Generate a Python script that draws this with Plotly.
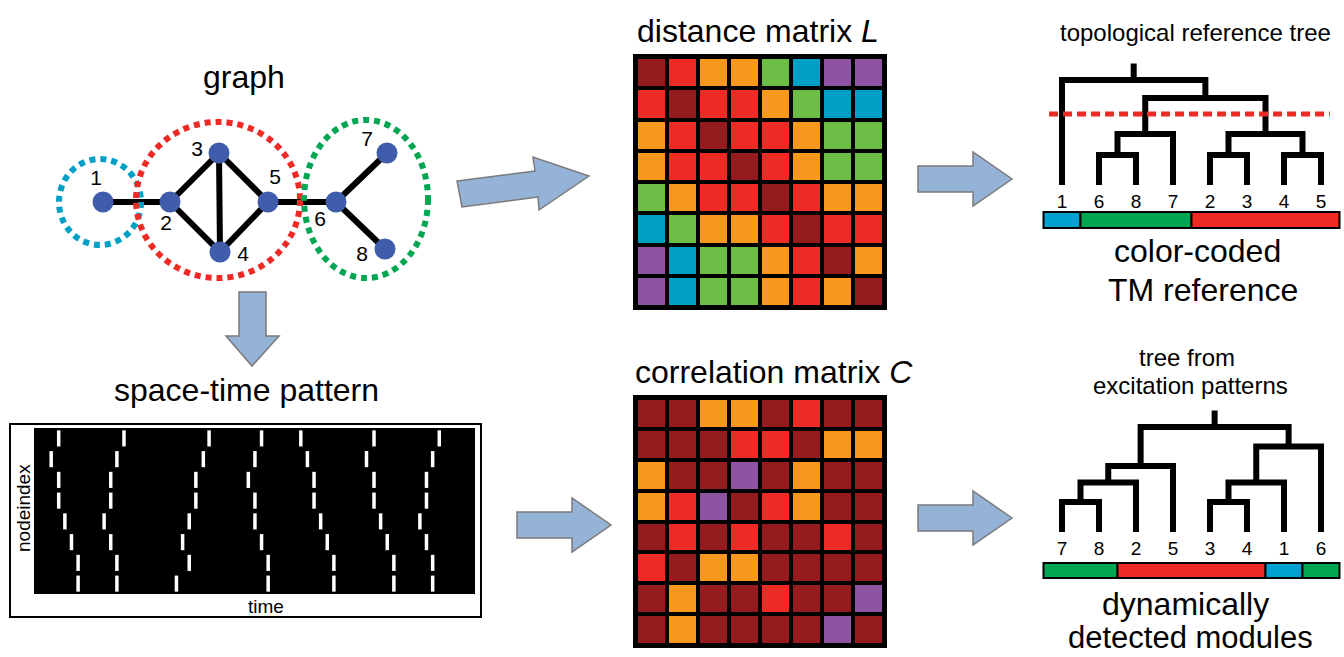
import plotly.graph_objects as go

W, H = 1344, 657
FONT = "Liberation Sans, Arial, sans-serif"

# ---------------- data ----------------
nodes = [1, 2, 3, 4, 5, 6, 7, 8]
edges = [(1, 2), (2, 3), (2, 4), (3, 4), (3, 5), (4, 5), (5, 6), (6, 7), (6, 8)]

# module of every node (TM reference)
node_module = {1: "blue", 2: "red", 3: "red", 4: "red", 5: "red",
               6: "green", 7: "green", 8: "green"}

# graph distance matrix L (hops between nodes)
dist_L = [
    [0, 1, 2, 2, 3, 4, 5, 5],
    [1, 0, 1, 1, 2, 3, 4, 4],
    [2, 1, 0, 1, 1, 2, 3, 3],
    [2, 1, 1, 0, 1, 2, 3, 3],
    [3, 2, 1, 1, 0, 1, 2, 2],
    [4, 3, 2, 2, 1, 0, 1, 1],
    [5, 4, 3, 3, 2, 1, 0, 2],
    [5, 4, 3, 3, 2, 1, 2, 0],
]

# correlation matrix C, binned to the same colour levels
corr_C = [
    [0, 0, 2, 2, 0, 1, 0, 0],
    [0, 0, 0, 1, 1, 0, 2, 2],
    [2, 0, 0, 5, 0, 2, 0, 0],
    [2, 1, 5, 0, 1, 2, 0, 0],
    [0, 1, 0, 1, 0, 0, 1, 0],
    [1, 0, 2, 2, 0, 0, 0, 0],
    [0, 2, 0, 0, 1, 0, 0, 5],
    [0, 2, 0, 0, 0, 0, 5, 0],
]

# excitation times per node (time axis 0..100)
spike_times = [
    [5.6, 20.4, 39.7, 51.6, 60.5, 77.1, 91.9],
    [3.9, 18.8, 38.4, 50.1, 62.0, 75.4, 90.4],
    [5.6, 17.4, 36.7, 48.6, 63.5, 77.1, 89.0],
    [5.6, 17.4, 36.7, 50.1, 63.5, 77.1, 89.0],
    [7.0, 15.9, 35.2, 50.1, 65.0, 78.6, 87.5],
    [8.5, 17.4, 33.7, 51.6, 66.5, 80.1, 89.0],
    [10.0, 18.8, 35.2, 53.1, 68.0, 81.6, 90.4],
    [10.0, 18.8, 32.3, 53.1, 68.0, 81.6, 90.4],
]

# dendrograms: (left, right, merge height) or a leaf label
ref_tree = ("1",
            ((("6", "8", 1.0), "7", 1.7),
             (("2", "3", 1.0), ("4", "5", 1.0), 1.7), 2.9),
            3.5)
dyn_tree = (((("7", "8", 1.0), "2", 1.65), "5", 2.2),
            ((("3", "4", 1.0), "1", 1.65), "6", 2.85),
            3.5)
ref_cut_height = 2.37
stem_height = 0.55

# ---------------- styling ----------------
level_colors = ["#951B1E", "#EE2A24", "#F7981D", "#6BBD45", "#00A0C6", "#8D54A1"]
module_colors = {"blue": "#00A0D0", "green": "#00A651", "red": "#EE2A24"}
circle_colors = {"blue": "#00A0C6", "green": "#00A651", "red": "#EE2A24"}
node_color = "#3F5DAB"
arrow_fill = "#95B3D7"
arrow_line = "#7A7A7A"

# graph drawing layout (pixel canvas)
node_pos = {1: (103, 202), 2: (170, 202), 3: (219, 153), 4: (220, 252),
            5: (268, 202), 6: (336, 202), 7: (387, 153), 8: (385, 249)}
label_pos = {1: (96, 180), 2: (166, 225), 3: (197, 151), 4: (243, 256),
             5: (275, 179), 6: (320, 221), 7: (367, 141), 8: (362, 256)}
module_circles = [("blue", 100, 202, 41, 43), ("red", 218, 200, 82, 78),
                  ("green", 366, 199, 62, 79)]


def dom_x(p0, p1):
    return [p0 / W, p1 / W]


def dom_y(p0, p1):
    return [1 - p1 / H, 1 - p0 / H]


def px(x):
    return x / W


def py(y):
    return 1 - y / H


fig = go.Figure()
shapes = []
annotations = []

# ---- graph ----
ex, ey = [], []
for a, b in edges:
    ex += [node_pos[a][0], node_pos[b][0], None]
    ey += [node_pos[a][1], node_pos[b][1], None]
fig.add_trace(go.Scatter(x=ex, y=ey, mode="lines",
                         line=dict(color="black", width=6),
                         hoverinfo="skip", showlegend=False))
fig.add_trace(go.Scatter(x=[node_pos[n][0] for n in nodes],
                         y=[node_pos[n][1] for n in nodes],
                         mode="markers",
                         marker=dict(size=21, color=node_color, line=dict(width=0)),
                         hoverinfo="skip", showlegend=False))
fig.add_trace(go.Scatter(x=[label_pos[n][0] for n in nodes],
                         y=[label_pos[n][1] for n in nodes],
                         text=[str(n) for n in nodes], mode="text",
                         textfont=dict(size=21, color="black", family=FONT),
                         hoverinfo="skip", showlegend=False))
for mod, cx, cy, rx, ry in module_circles:
    shapes.append(dict(type="circle", xref="x", yref="y",
                       x0=cx - rx, x1=cx + rx, y0=cy - ry, y1=cy + ry,
                       line=dict(color=circle_colors[mod], width=6, dash="6px,5px")))

# ---- matrices ----
n_lev = len(level_colors)
cscale = []
for i, c in enumerate(level_colors):
    cscale += [[i / n_lev, c], [(i + 1) / n_lev, c]]

for mat, ax in ((dist_L, "2"), (corr_C, "3")):
    fig.add_trace(go.Heatmap(z=mat, x=nodes, y=nodes, colorscale=cscale,
                             zmin=-0.5, zmax=n_lev - 0.5, showscale=False,
                             xgap=4, ygap=4, hoverinfo="skip",
                             xaxis="x" + ax, yaxis="y" + ax))

for (y0, y1) in ((57, 307), (398, 645)):
    shapes.append(dict(type="rect", xref="paper", yref="paper", layer="below",
                       x0=px(633), x1=px(887), y0=py(y0 - 3), y1=py(y1 + 3),
                       fillcolor="black", line=dict(width=0)))

# ---- space-time pattern ----
sx, sy = [], []
for i, row in enumerate(spike_times):
    for t in row:
        sx.append(t)
        sy.append(i + 1)
fig.add_trace(go.Scatter(x=sx, y=sy, mode="markers",
                         marker=dict(symbol="line-ns", size=11.5,
                                     line=dict(color="white", width=3.5)),
                         hoverinfo="skip", showlegend=False,
                         xaxis="x4", yaxis="y4"))
shapes.append(dict(type="rect", xref="paper", yref="paper", layer="below",
                   x0=px(10), x1=px(481), y0=py(424), y1=py(617),
                   fillcolor="white", line=dict(color="black", width=2)))
shapes.append(dict(type="rect", xref="paper", yref="paper", layer="below",
                   x0=px(34), x1=px(475), y0=py(428), y1=py(594),
                   fillcolor="black", line=dict(width=0)))


# ---- dendrograms ----
def leaves(node):
    if isinstance(node, str):
        return [node]
    return leaves(node[0]) + leaves(node[1])


def draw(node, order, xs, ys):
    if isinstance(node, str):
        return float(order.index(node)), 0.0
    left, right, h = node
    xl, hl = draw(left, order, xs, ys)
    xr, hr = draw(right, order, xs, ys)
    xs += [xl, xl, xr, xr, None]
    ys += [hl, h, h, hr, None]
    return (xl + xr) / 2, h


def add_tree(tree, ax, bar_lo, bar_hi, label_h):
    order = leaves(tree)
    xs, ys = [], []
    rx, rh = draw(tree, order, xs, ys)
    xs += [rx, rx, None]
    ys += [rh, rh + stem_height, None]
    fig.add_trace(go.Scatter(x=xs, y=ys, mode="lines",
                             line=dict(color="black", width=6),
                             hoverinfo="skip", showlegend=False,
                             xaxis="x" + ax, yaxis="y" + ax))
    fig.add_trace(go.Scatter(x=list(range(len(order))), y=[label_h] * len(order),
                             text=order, mode="text",
                             textfont=dict(size=19, color="black", family=FONT),
                             hoverinfo="skip", showlegend=False,
                             xaxis="x" + ax, yaxis="y" + ax))
    # module colour bar: one block per run of equal modules
    mods = [node_module[int(l)] for l in order]
    start = 0
    for i in range(1, len(mods) + 1):
        if i == len(mods) or mods[i] != mods[start]:
            shapes.append(dict(type="rect", xref="x" + ax, yref="y" + ax,
                               x0=start - 0.5, x1=i - 0.5, y0=bar_lo, y1=bar_hi,
                               fillcolor=module_colors[mods[start]],
                               line=dict(color="black", width=2)))
            start = i


add_tree(ref_tree, "5", -1.43, -0.9, -0.6)
add_tree(dyn_tree, "6", -1.53, -1.03, -0.6)
shapes.append(dict(type="line", xref="x5", yref="y5",
                   x0=-0.35, x1=7.24, y0=ref_cut_height, y1=ref_cut_height,
                   line=dict(color="#EE2A24", width=5, dash="9px,5px")))


# ---- arrows ----
def poly(pts):
    return "M " + " L ".join(f"{x},{y}" for x, y in pts) + " Z"


arrows = [
    [(457, 181), (535, 171), (533, 157), (589, 176), (539, 210), (538, 197), (462, 207)],
    [(239, 292), (266, 292), (266, 336), (279, 336), (252, 366), (226, 336), (239, 336)],
    [(517, 512), (572, 512), (572, 498), (611, 525), (572, 552), (572, 538), (517, 538)],
    [(918, 166), (973, 166), (973, 152), (1012, 179), (973, 206), (973, 192), (918, 192)],
    [(918, 505), (973, 505), (973, 491), (1012, 518), (973, 545), (973, 531), (918, 531)],
]
for pts in arrows:
    shapes.append(dict(type="path", xref="x", yref="y", path=poly(pts),
                       fillcolor=arrow_fill, line=dict(color=arrow_line, width=1.5)))

# ---- texts ----
texts = [
    ("graph", 244, 77, 32),
    ("distance matrix <i>L</i>", 758, 31, 32),
    ("correlation matrix <i>C</i>", 774, 372, 32),
    ("space-time pattern", 246, 390, 32),
    ("topological reference tree", 1195, 32, 24),
    ("color-coded", 1197, 251, 32),
    ("TM reference", 1203, 290, 32),
    ("tree from", 1187, 357, 24),
    ("excitation patterns", 1190, 385, 24),
    ("dynamically", 1185, 604, 32),
    ("detected modules", 1190, 637, 31),
    ("time", 266, 606, 19),
]
for t, x, y, s in texts:
    annotations.append(dict(text=t, x=x, y=y, xref="x", yref="y", showarrow=False,
                            font=dict(size=s, color="black", family=FONT),
                            xanchor="center", yanchor="middle", borderpad=0))
annotations.append(dict(text="nodeindex", x=23, y=508, xref="x", yref="y",
                        showarrow=False, textangle=-90,
                        font=dict(size=19, color="black", family=FONT)))

hidden = dict(visible=False, showgrid=False, zeroline=False, fixedrange=True)
leaf_px, leaf_step = 1062, 37.0
fig.update_layout(
    width=W, height=H, autosize=False,
    margin=dict(l=0, r=0, t=0, b=0, pad=0),
    paper_bgcolor="white", plot_bgcolor="rgba(0,0,0,0)",
    showlegend=False,
    xaxis=dict(hidden, domain=[0, 1], range=[0, W]),
    yaxis=dict(hidden, domain=[0, 1], range=[H, 0]),
    xaxis2=dict(hidden, domain=dom_x(636, 884), range=[0.5, 8.5], anchor="y2"),
    yaxis2=dict(hidden, domain=dom_y(57, 307), range=[8.5, 0.5], anchor="x2"),
    xaxis3=dict(hidden, domain=dom_x(636, 884), range=[0.5, 8.5], anchor="y3"),
    yaxis3=dict(hidden, domain=dom_y(398, 645), range=[8.5, 0.5], anchor="x3"),
    xaxis4=dict(hidden, domain=dom_x(34, 475), range=[0, 100], anchor="y4"),
    yaxis4=dict(hidden, domain=dom_y(428, 594), range=[8.5, 0.5], anchor="x4"),
    xaxis5=dict(hidden, domain=dom_x(1040, 1344),
                range=[(1040 - leaf_px) / leaf_step, (1344 - leaf_px) / leaf_step], anchor="y5"),
    yaxis5=dict(hidden, domain=dom_y(50, 235),
                range=[(185 - 235) / 30, (185 - 50) / 30], anchor="x5"),
    xaxis6=dict(hidden, domain=dom_x(1040, 1344),
                range=[(1040 - leaf_px) / leaf_step, (1344 - leaf_px) / leaf_step], anchor="y6"),
    yaxis6=dict(hidden, domain=dom_y(400, 590),
                range=[(532 - 590) / 30, (532 - 400) / 30], anchor="x6"),
    shapes=shapes,
    annotations=annotations,
)

fig.write_html("out.html")
